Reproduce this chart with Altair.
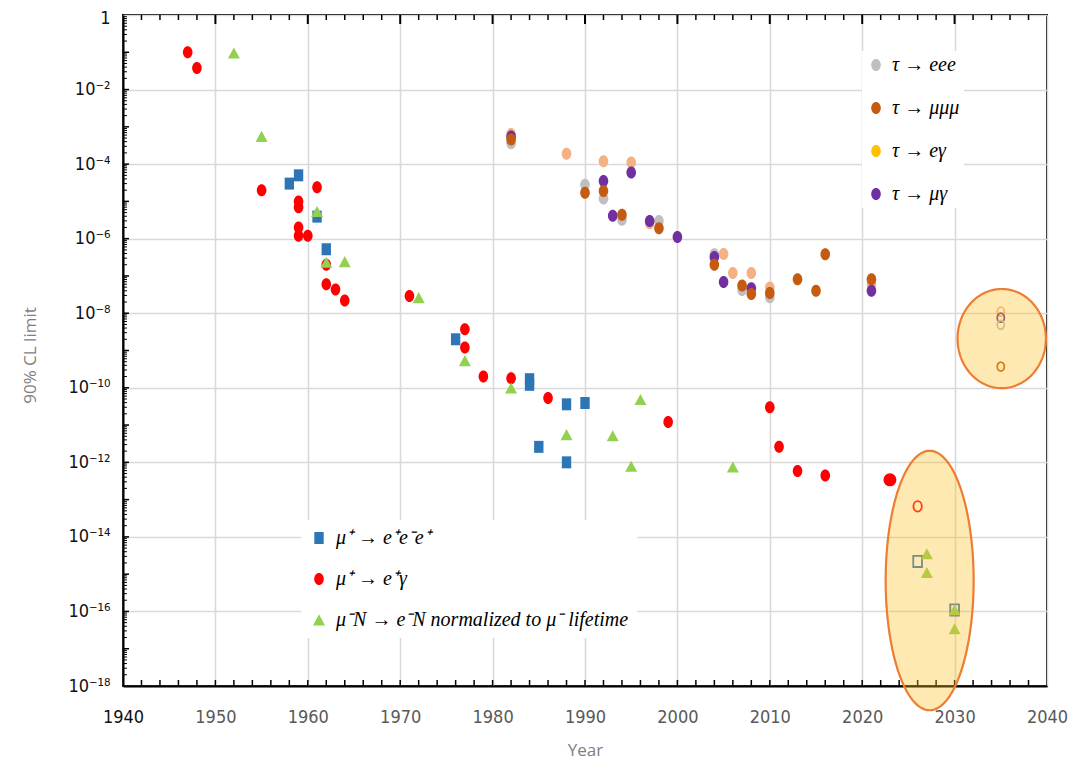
import altair as alt
import numpy as np
import pandas as pd

# ---------------- values ----------------
# mu+ -> e+ gamma
meg_years = [1947, 1948, 1955, 1959, 1959, 1959, 1959, 1960, 1961, 1962, 1962, 1963, 1964,
             1971, 1977, 1977, 1979, 1982, 1986, 1999, 2010, 2011, 2013, 2016]
meg_vals = [1.0e-1, 3.8e-2, 2.0e-5, 1.0e-5, 7.0e-6, 2.0e-6, 1.2e-6, 1.2e-6, 2.4e-5, 2.0e-7, 6.0e-8,
            4.3e-8, 2.2e-8, 2.9e-8, 3.7e-9, 1.2e-9, 2.0e-10, 1.8e-10, 5.3e-11, 1.2e-11, 3.0e-11,
            2.6e-12, 5.9e-13, 4.4e-13]
meg_recent_years = [2023]
meg_recent_vals = [3.4e-13]
meg_proj_years = [2026]
meg_proj_vals = [6.6e-14]

# mu+ -> e+ e- e+
meee_years = [1958, 1959, 1961, 1962, 1976, 1984, 1984, 1985, 1988, 1990, 1988]
meee_vals = [3.0e-5, 5.0e-5, 3.9e-6, 5.2e-7, 2.0e-9, 1.7e-10, 1.2e-10, 2.6e-12, 3.6e-11, 3.9e-11, 1.0e-12]
meee_proj_years = [2026, 2030]
meee_proj_vals = [2.2e-15, 1.1e-16]

# mu- N -> e- N
conv_years = [1952, 1955, 1961, 1962, 1964, 1972, 1977, 1982, 1988, 1993, 1995, 1996, 2006]
conv_vals = [9.5e-2, 5.5e-4, 5.3e-6, 2.3e-7, 2.4e-7, 2.6e-8, 5.3e-10, 9.8e-11, 5.5e-12, 5.1e-12,
             7.8e-13, 4.8e-11, 7.4e-13]
conv_proj_years = [2027, 2027, 2030, 2030]
conv_proj_vals = [3.5e-15, 1.1e-15, 1.1e-16, 3.4e-17]

# tau decays
tau_eee_years = [1982, 1990, 1992, 1994, 1998, 2004, 2007, 2010]
tau_eee_vals = [3.6e-4, 2.8e-5, 1.2e-5, 3.2e-6, 3.0e-6, 3.8e-7, 4.2e-8, 2.7e-8]
tau_eg_years = [1982, 1988, 1992, 1995, 1997, 2005, 2006, 2008, 2010, 2021]
tau_eg_vals = [6.4e-4, 1.9e-4, 1.2e-4, 1.1e-4, 2.6e-6, 3.9e-7, 1.2e-7, 1.2e-7, 4.9e-8, 6.0e-8]
tau_mg_years = [1982, 1992, 1993, 1995, 1997, 2000, 2004, 2005, 2008, 2021]
tau_mg_vals = [5.5e-4, 3.5e-5, 4.1e-6, 6.0e-5, 3.0e-6, 1.1e-6, 3.2e-7, 6.9e-8, 4.7e-8, 4.0e-8]
tau_mmm_years = [1982, 1990, 1992, 1994, 1998, 2004, 2007, 2008, 2010, 2013, 2015, 2016, 2021]
tau_mmm_vals = [4.6e-4, 1.7e-5, 1.9e-5, 4.4e-6, 1.9e-6, 2.0e-7, 5.5e-8, 3.3e-8, 3.5e-8, 8.2e-8,
                4.0e-8, 3.8e-7, 8.2e-8]
tau_proj_series = ["τ → eγ", "τ → μγ", "τ → eee", "τ → μμμ"]
tau_proj_years = [2035, 2035, 2035, 2035]
tau_proj_vals = [1.1e-8, 7.6e-9, 4.9e-9, 3.7e-10]

mu_labels = ["μ⁺ → e⁺e⁻e⁺", "μ⁺ → e⁺γ", "μ⁻N → e⁻N normalized to μ⁻ lifetime"]
tau_labels = ["τ → eee", "τ → μμμ", "τ → eγ", "τ → μγ"]

y_tick_labels = ["1", "10⁻²", "10⁻⁴", "10⁻⁶", "10⁻⁸", "10⁻¹⁰", "10⁻¹²", "10⁻¹⁴", "10⁻¹⁶", "10⁻¹⁸"]
x_label_years = list(range(1940, 2041, 10))

# highlighted projection regions (centre year, centre log10, half width yrs, half height decades)
region_year = [2035.1, 2027.3]
region_log = [-8.68, -15.17]
region_halfw = [4.78, 4.76]
region_halfh = [1.33, 3.48]

# ---------------- styles ----------------
MU_COLORS = ["#2e75b6", "#ff0000", "#92d050"]
TAU_COLORS = ["#bfbfbf", "#c55a11", "#f4b183", "#7030a0"]
TAU_LEGEND_COLORS = ["#bfbfbf", "#c55a11", "#ffc000", "#7030a0"]
ELL = "M0,-1A0.8,1,0,1,1,0,1A0.8,1,0,1,1,0,-1Z"
SQ = "M-0.78,-1H0.78V1H-0.78Z"
TRI = "M0,-0.95L1,0.9L-1,0.9Z"
SERIF = "Liberation Serif, Times New Roman, serif"
NARROW = "Liberation Sans Narrow, DejaVu Sans Condensed, sans-serif"

W, H = 924, 671

# ---------------- tables ----------------
mu_df = pd.concat([
    pd.DataFrame({"year": meee_years, "val": meee_vals, "process": mu_labels[0], "z": 0}),
    pd.DataFrame({"year": meg_years, "val": meg_vals, "process": mu_labels[1], "z": 1}),
    pd.DataFrame({"year": conv_years, "val": conv_vals, "process": mu_labels[2], "z": 2}),
], ignore_index=True)

tau_df = pd.concat([
    pd.DataFrame({"year": tau_eee_years, "val": tau_eee_vals, "series": tau_labels[0], "z": 0}),
    pd.DataFrame({"year": tau_eg_years, "val": tau_eg_vals, "series": tau_labels[2], "z": 1}),
    pd.DataFrame({"year": tau_mg_years, "val": tau_mg_vals, "series": tau_labels[3], "z": 2}),
    pd.DataFrame({"year": tau_mmm_years, "val": tau_mmm_vals, "series": tau_labels[1], "z": 3}),
], ignore_index=True)
tau_df["series_leg"] = tau_df["series"]

tau_proj_df = pd.DataFrame({"year": tau_proj_years, "val": tau_proj_vals, "series": tau_proj_series})
meg_recent_df = pd.DataFrame({"year": meg_recent_years, "val": meg_recent_vals})
meg_proj_df = pd.DataFrame({"year": meg_proj_years, "val": meg_proj_vals})
meee_proj_df = pd.DataFrame({"year": meee_proj_years, "val": meee_proj_vals})
conv_proj_df = pd.DataFrame({"year": conv_proj_years, "val": conv_proj_vals})

rows = []
theta = np.linspace(0, np.pi, 121)
for i in range(len(region_year)):
    t = region_log[i] + region_halfh[i] * np.cos(theta)
    w = region_halfw[i] * np.sin(theta)
    for tt, ww in zip(t, w):
        rows.append({"id": i, "val": 10 ** tt, "left": region_year[i] - ww, "right": region_year[i] + ww})
region_df = pd.DataFrame(rows)

minor_x = pd.DataFrame({"year": [y for y in range(1942, 2040, 2) if y % 10 != 0]})
major_x = pd.DataFrame({"year": list(range(1950, 2040, 10))})
decade_y = pd.DataFrame({"val": [10.0 ** k for k in range(-17, 0)]})
minor_y = pd.DataFrame({"val": [m * 10.0 ** k for k in range(-18, 0) for m in range(2, 10)]})

# ---------------- scales & axes ----------------
xscale = alt.Scale(domain=[1940, 2040], nice=False, zero=False)
yscale = alt.Scale(type="log", domain=[1e-18, 1], nice=False)

label_arr = "[" + ",".join("'" + s + "'" for s in y_tick_labels) + "]"
xaxis = alt.Axis(values=x_label_years, format="d", grid=True, gridColor="#d9d9d9", gridWidth=1.6,
                 domainColor="black", domainWidth=2, ticks=False, labelPadding=22,
                 labelFont=NARROW, labelFontSize=18,
                 labelColor={"condition": {"test": "datum.value == 1940", "value": "#111111"},
                             "value": "#595959"},
                 labelFlush=False, title="Year", titleFont="Open Sans", titleFontSize=17,
                 titleFontWeight="normal", titleColor="#7f7f7f", titlePadding=16)
yaxis = alt.Axis(values=[10.0 ** (-k) for k in range(0, 19, 2)],
                 labelExpr=label_arr + "[round(-log(datum.value)/LN10/2)]",
                 grid=True, gridColor="#d9d9d9", gridWidth=1.6, domainColor="black", domainWidth=2,
                 ticks=False, labelPadding=13, labelFont=NARROW, labelFontSize=18, labelColor="#111111",
                 labelOffset={"condition": {"test": "datum.value == 1", "value": 3}, "value": 0},
                 labelFlush=False, title="90% CL limit", titleFont="Open Sans", titleFontSize=17,
                 titleFontWeight="normal", titleColor="#7f7f7f", titleX=-93, titleY=340,
                 titleAngle=270, titleAlign="center", titleBaseline="middle")


def X(field="year"):
    return alt.X(f"{field}:Q", scale=xscale, axis=xaxis, title="Year")


def Y(field="val"):
    return alt.Y(f"{field}:Q", scale=yscale, axis=yaxis, title="90% CL limit")


tick_color = "black"
bottom_minor = alt.Chart(minor_x).mark_rule(color=tick_color, strokeWidth=1.5).encode(
    x=X(), y=alt.value(H), y2=alt.value(H - 6))
bottom_major = alt.Chart(major_x).mark_rule(color=tick_color, strokeWidth=1.5).encode(
    x=X(), y=alt.value(H), y2=alt.value(H - 6))
top_minor = alt.Chart(minor_x).mark_rule(color=tick_color, strokeWidth=1.5).encode(
    x=X(), y=alt.value(0), y2=alt.value(5))
top_major = alt.Chart(major_x).mark_rule(color=tick_color, strokeWidth=2).encode(
    x=X(), y=alt.value(0), y2=alt.value(9))
left_decade = alt.Chart(decade_y).mark_rule(color=tick_color, strokeWidth=1.5).encode(
    y=Y(), x=alt.value(0), x2=alt.value(6))
left_minor = alt.Chart(minor_y).mark_rule(color=tick_color, strokeWidth=1).encode(
    y=Y(), x=alt.value(0), x2=alt.value(4))

tau_legend = alt.Legend(title=None, orient="none", legendX=739, legendY=36, direction="vertical",
                        fillColor="white", padding=4, labelFont=SERIF, labelFontStyle="italic",
                        labelFontSize=20, labelColor="black", symbolSize=144, rowPadding=23,
                        labelOffset=6, symbolOpacity=1, symbolStrokeWidth=0)
mu_legend = alt.Legend(title=None, orient="none", legendX=178, legendY=505, direction="vertical",
                       fillColor="white", padding=8, labelFont=SERIF, labelFontStyle="italic",
                       labelFontSize=20, labelColor="black", symbolSize=144, rowPadding=21,
                       labelOffset=7, symbolOpacity=1, symbolStrokeWidth=0, labelLimit=500)

tau_points = alt.Chart(tau_df).mark_point(shape=ELL, filled=True, size=144, opacity=1).encode(
    x=X(), y=Y(),
    color=alt.Color("series:N", scale=alt.Scale(domain=tau_labels, range=TAU_COLORS), legend=None),
    order=alt.Order("z:Q"))

tau_legend_layer = alt.Chart(tau_df).transform_filter("datum.year < 0").mark_point(
    shape=ELL, filled=True, size=144, opacity=1).encode(
    x=X(), y=Y(),
    color=alt.Color("series_leg:N", scale=alt.Scale(domain=tau_labels, range=TAU_LEGEND_COLORS),
                    legend=tau_legend))

mu_points = alt.Chart(mu_df).mark_point(filled=True, size=144, opacity=1).encode(
    x=X(), y=Y(),
    color=alt.Color("process:N", scale=alt.Scale(domain=mu_labels, range=MU_COLORS), legend=mu_legend),
    shape=alt.Shape("process:N", scale=alt.Scale(domain=mu_labels, range=[SQ, ELL, TRI]), legend=mu_legend),
    order=alt.Order("z:Q"))

meg_recent = alt.Chart(meg_recent_df).mark_point(shape="circle", filled=True, size=170,
                                                 color="#ff0000", opacity=1).encode(x=X(), y=Y())
meg_proj = alt.Chart(meg_proj_df).mark_point(shape=ELL, filled=False, size=110, color="#ff0000",
                                             strokeWidth=1.8, opacity=1).encode(x=X(), y=Y())
meee_proj = alt.Chart(meee_proj_df).mark_point(shape=SQ, filled=False, size=125, color="#2e75b6",
                                               strokeWidth=1.8, opacity=1).encode(x=X(), y=Y())
conv_proj = alt.Chart(conv_proj_df).mark_point(shape=TRI, filled=True, size=144, color="#92d050",
                                               opacity=1).encode(x=X(), y=Y())
tau_proj = alt.Chart(tau_proj_df).mark_point(shape=ELL, filled=False, size=80, strokeWidth=1.8,
                                             opacity=1).encode(
    x=X(), y=Y(),
    color=alt.Color("series:N", scale=alt.Scale(domain=tau_labels, range=TAU_COLORS), legend=None))

regions = alt.Chart(region_df).mark_area(orient="horizontal", fill="#ffc026", fillOpacity=0.35,
                                         stroke="#ed7d31", strokeWidth=2.2, strokeOpacity=1).encode(
    y=Y(), x=X("left"), x2="right:Q", detail="id:N")

chart = alt.layer(
    left_minor, left_decade, bottom_minor, bottom_major, top_minor, top_major,
    tau_points, tau_legend_layer, mu_points, meg_recent,
    meg_proj, meee_proj, conv_proj, tau_proj, regions,
).resolve_scale(color="independent", shape="independent").properties(
    width=W, height=H,
    padding={"left": 115, "top": 7, "right": 25, "bottom": 75},
    autosize=alt.AutoSizeParams(type="none"),
    background="white",
).configure_view(stroke="black", strokeWidth=2)

chart.save("out.html", embed_options={"renderer": "svg", "actions": False})
